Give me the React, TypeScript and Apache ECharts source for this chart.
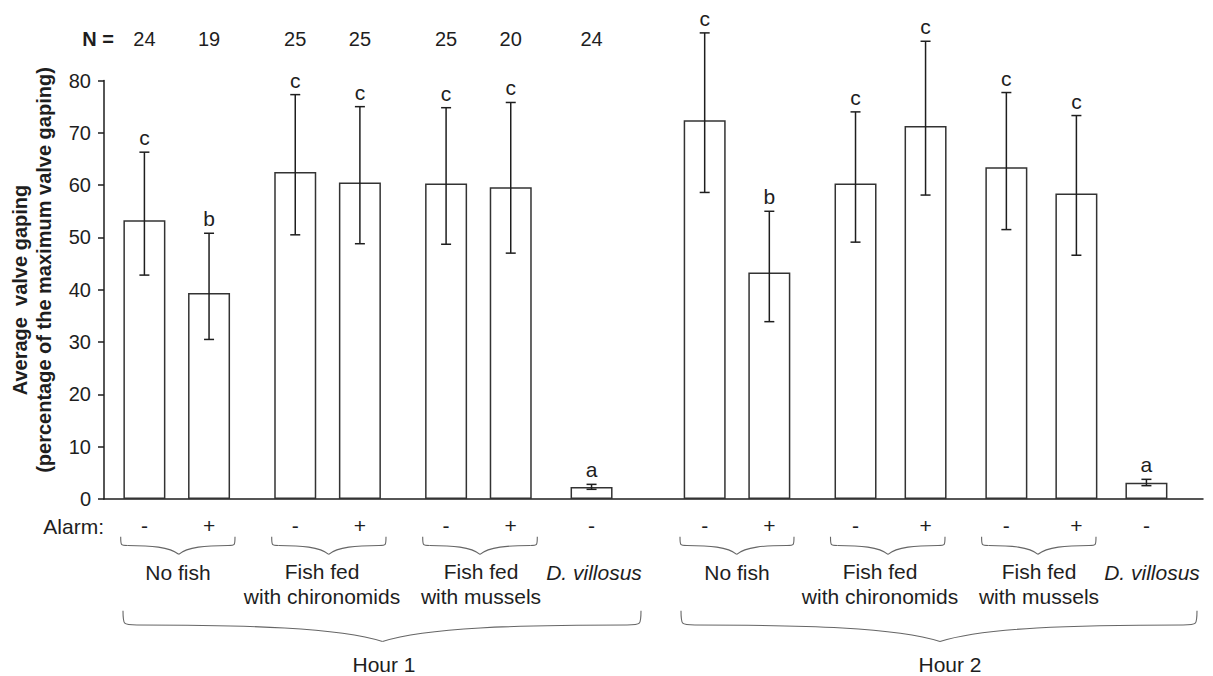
import React, { useEffect, useRef } from "react";
import * as echarts from "echarts";

// ---- data ----
const alarmSigns = ["-", "+", "-", "+", "-", "+", "-", "-", "+", "-", "+", "-", "+", "-"];
const meanGaping = [53.3, 39.4, 62.5, 60.5, 60.3, 59.6, 2.3, 72.4, 43.3, 60.3, 71.3, 63.4, 58.4, 3.1];
const lowerBound = [42.8, 30.5, 50.5, 48.8, 48.7, 47.0, 1.85, 58.6, 33.9, 49.1, 58.1, 51.5, 46.6, 2.55];
const upperBound = [66.3, 50.8, 77.3, 75.0, 74.8, 75.8, 2.8, 89.1, 55.0, 74.0, 87.5, 77.7, 73.3, 3.76];
const sigLetters = ["c", "b", "c", "c", "c", "c", "a", "c", "b", "c", "c", "c", "c", "a"];
const sampleSizes = [24, 19, 25, 25, 25, 20, 24];
const groupLabels = ["No fish", "Fish fed\nwith chironomids", "Fish fed\nwith mussels", "D. villosus"];
const hourLabels = ["Hour 1", "Hour 2"];
const yTickValues = [0, 10, 20, 30, 40, 50, 60, 70, 80];

// ---- layout (axis slots for uneven bar spacing) ----
const SLOT_COUNT = 204;
const barSlots = [7, 19, 35, 47, 63, 75, 90, 111, 123, 139, 152, 167, 180, 193];

const FONT = '"Liberation Sans", Arial, Helvetica, sans-serif';
const INK = "#1e1e1e";

function txt(text: string, x: number, y: number, opts: any = {}) {
  return {
    type: "text",
    x,
    y,
    rotation: opts.rotation || 0,
    silent: true,
    style: {
      text,
      fill: INK,
      fontSize: opts.fontSize || 20,
      fontFamily: FONT,
      fontWeight: opts.fontWeight || "normal",
      fontStyle: opts.fontStyle || "normal",
      lineHeight: opts.lineHeight || 20,
      align: opts.align || "center",
      verticalAlign: opts.verticalAlign || "middle",
      textAlign: opts.align || "center",
      textVerticalAlign: opts.verticalAlign || "middle",
    },
  };
}

function brace(x1: number, x2: number, xm: number, top: number, flat: number, tip: number, r: number) {
  const style = { stroke: "#666", lineWidth: 1.1, fill: null };
  const h = tip - flat;
  const out: any[] = [];
  out.push({ type: "bezierCurve", silent: true, shape: { x1, y1: top, cpx1: x1, cpy1: flat, cpx2: x1, cpy2: flat, x2: x1 + r, y2: flat }, style });
  const wl = xm - (x1 + r);
  out.push({ type: "bezierCurve", silent: true, shape: { x1: x1 + r, y1: flat, cpx1: x1 + r + wl * 0.45, cpy1: flat, cpx2: xm - wl * 0.18, cpy2: flat + h * 0.15, x2: xm, y2: tip }, style });
  out.push({ type: "bezierCurve", silent: true, shape: { x1: x2, y1: top, cpx1: x2, cpy1: flat, cpx2: x2, cpy2: flat, x2: x2 - r, y2: flat }, style });
  const wr = (x2 - r) - xm;
  out.push({ type: "bezierCurve", silent: true, shape: { x1: x2 - r, y1: flat, cpx1: x2 - r - wr * 0.45, cpy1: flat, cpx2: xm + wr * 0.18, cpy2: flat + h * 0.15, x2: xm, y2: tip }, style });
  return out;
}

export default function App() {
  const ref = useRef<HTMLDivElement>(null);

  useEffect(() => {
    if (!ref.current) return;
    const chart = echarts.init(ref.current, undefined, { renderer: "svg" });

    const categories = Array.from({ length: SLOT_COUNT }, (_, i) => "s" + i);
    const barData = Array.from({ length: SLOT_COUNT }, () => null as any);
    barSlots.forEach((s, i) => (barData[s] = meanGaping[i]));
    const errData = barSlots.map((s, i) => [s, lowerBound[i], upperBound[i], i]);
    const nData = sampleSizes.map((n, i) => [barSlots[i], n]);

    const smallTop = 536.7, smallFlat = 545.5, smallTip = 554.3;
    const bigTop = 610.7, bigFlat = 625, bigTip = 641.5;
    const LF = 21;

    const graphics: any[] = [
      txt("Average  valve gaping", 20, 290, { fontWeight: "bold", rotation: Math.PI / 2 }),
      txt("(percentage of the maximum valve gaping)", 44, 270, { fontWeight: "bold", rotation: Math.PI / 2 }),
      txt("N =", 98, 38.7, { fontWeight: "bold" }),
      txt("Alarm:", 104, 526, { align: "right", fontSize: LF }),
      txt(groupLabels[0], 178, 572, { fontSize: LF }),
      txt(groupLabels[1], 322, 584.3, { lineHeight: 24.7, fontSize: LF }),
      txt(groupLabels[2], 481, 584.3, { lineHeight: 24.7, fontSize: LF }),
      txt(groupLabels[3], 594, 572, { fontStyle: "italic", fontSize: LF }),
      txt(groupLabels[0], 737, 572, { fontSize: LF }),
      txt(groupLabels[1], 880, 584.3, { lineHeight: 24.7, fontSize: LF }),
      txt(groupLabels[2], 1039, 584.3, { lineHeight: 24.7, fontSize: LF }),
      txt(groupLabels[3], 1152, 572, { fontStyle: "italic", fontSize: LF }),
      txt(hourLabels[0], 384, 664, { fontSize: LF }),
      txt(hourLabels[1], 950, 664, { fontSize: LF }),
      ...brace(120.7, 235, 178.7, smallTop, smallFlat, smallTip, 7),
      ...brace(271.7, 386, 328.7, smallTop, smallFlat, smallTip, 7),
      ...brace(422.7, 537.3, 480, smallTop, smallFlat, smallTip, 7),
      ...brace(680, 794, 736.7, smallTop, smallFlat, smallTip, 7),
      ...brace(830.5, 945, 888, smallTop, smallFlat, smallTip, 7),
      ...brace(981.6, 1096, 1038, smallTop, smallFlat, smallTip, 7),
      ...brace(123, 641, 382.5, bigTop, bigFlat, bigTip, 14),
      ...brace(681, 1197, 940, bigTop, bigFlat, bigTip, 14),
    ];

    chart.setOption({
      animation: false,
      backgroundColor: "#ffffff",
      textStyle: { fontFamily: FONT },
      grid: { left: 104, right: 10, top: 80.5, bottom: 177, containLabel: false },
      xAxis: {
        type: "category",
        data: categories,
        boundaryGap: true,
        axisLine: { show: true, lineStyle: { color: INK, width: 1.5 } },
        axisTick: { show: false },
        axisLabel: {
          interval: 0,
          margin: 16,
          fontSize: LF,
          color: INK,
          fontFamily: FONT,
          formatter: (_v: string, idx: number) => {
            const b = barSlots.indexOf(idx);
            return b >= 0 ? alarmSigns[b] : "";
          },
        },
        splitLine: { show: false },
      },
      yAxis: {
        type: "value",
        min: yTickValues[0],
        max: yTickValues[yTickValues.length - 1],
        interval: 10,
        axisLine: { show: true, lineStyle: { color: INK, width: 1.5 } },
        axisTick: { show: true, length: 6, lineStyle: { color: INK, width: 1.5 } },
        axisLabel: { fontSize: 20, color: INK, margin: 13, fontFamily: FONT },
        splitLine: { show: false },
      },
      graphic: graphics,
      series: [
        {
          type: "bar",
          data: barData,
          barWidth: 42,
          itemStyle: { color: "#ffffff", borderColor: "#333", borderWidth: 1.5 },
          z: 2,
        },
        {
          type: "custom",
          data: errData,
          clip: false,
          z: 3,
          encode: { x: 0, y: [1, 2] },
          renderItem: (params: any, api: any) => {
            const idx = api.value(0);
            const lo = api.coord([idx, api.value(1)]);
            const hi = api.coord([idx, api.value(2)]);
            const x = lo[0];
            const cap = 5;
            const ls = { stroke: INK, lineWidth: 1.5 };
            const letter = sigLetters[api.value(3)];
            return {
              type: "group",
              children: [
                { type: "line", shape: { x1: x, y1: lo[1], x2: x, y2: hi[1] }, style: ls },
                { type: "line", shape: { x1: x - cap, y1: hi[1], x2: x + cap, y2: hi[1] }, style: ls },
                { type: "line", shape: { x1: x - cap, y1: lo[1], x2: x + cap, y2: lo[1] }, style: ls },
                {
                  type: "text",
                  x,
                  y: hi[1] - 4,
                  style: {
                    text: letter,
                    fill: INK,
                    fontSize: 21,
                    fontFamily: FONT,
                    align: "center",
                    verticalAlign: "bottom",
                    textAlign: "center",
                    textVerticalAlign: "bottom",
                  },
                },
              ],
            };
          },
        },
        {
          type: "custom",
          data: nData,
          clip: false,
          z: 3,
          encode: { x: 0, y: 1 },
          renderItem: (params: any, api: any) => {
            const p = api.coord([api.value(0), 0]);
            return {
              type: "text",
              x: p[0],
              y: 38.7,
              style: {
                text: String(api.value(1)),
                fill: INK,
                fontSize: 20,
                fontFamily: FONT,
                align: "center",
                verticalAlign: "middle",
                textAlign: "center",
                textVerticalAlign: "middle",
              },
            };
          },
        },
      ],
    });

    return () => chart.dispose();
  }, []);

  return (
    <div
      ref={ref}
      style={{ position: "absolute", left: 0, top: 0, width: 1213, height: 676, background: "#fff" }}
    />
  );
}
